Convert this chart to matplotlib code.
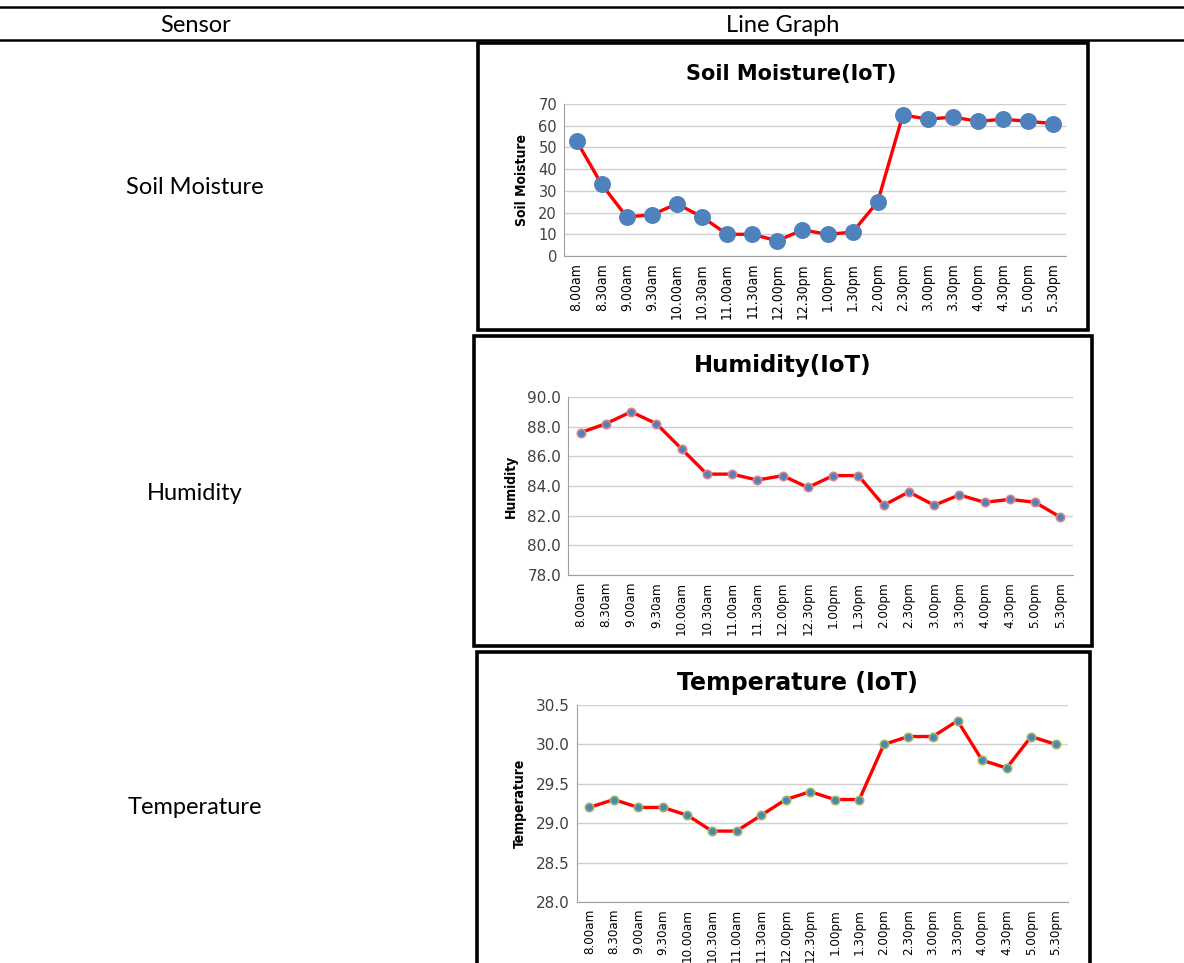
import matplotlib
matplotlib.use("Agg")
import matplotlib.pyplot as plt
from matplotlib.lines import Line2D
from matplotlib.patches import Rectangle

W, H = 1184, 963

times = ["8.00am", "8.30am", "9.00am", "9.30am", "10.00am", "10.30am", "11.00am",
         "11.30am", "12.00pm", "12.30pm", "1.00pm", "1.30pm", "2.00pm", "2.30pm",
         "3.00pm", "3.30pm", "4.00pm", "4.30pm", "5.00pm", "5.30pm"]
soil = [53, 33, 18, 19, 24, 18, 10, 10, 7, 12, 10, 11, 25, 65, 63, 64, 62, 63, 62, 61]
humidity = [87.6, 88.2, 89.0, 88.2, 86.5, 84.8, 84.8, 84.4, 84.7, 83.9, 84.7, 84.7,
            82.7, 83.6, 82.7, 83.4, 82.9, 83.1, 82.9, 81.9]
temperature = [29.2, 29.3, 29.2, 29.2, 29.1, 28.9, 28.9, 29.1, 29.3, 29.4, 29.3, 29.3,
               30.0, 30.1, 30.1, 30.3, 29.8, 29.7, 30.1, 30.0]
sensors = ["Soil Moisture", "Humidity", "Temperature"]

NARROW = ["DejaVu Sans Condensed", "Liberation Sans Narrow", "DejaVu Sans"]
BODY = ["Lato", "DejaVu Sans"]

def frac(x0, y0, x1, y1):
    # pixel box (top-left origin) -> figure fraction rect
    return [x0 / W, 1 - y1 / H, (x1 - x0) / W, (y1 - y0) / H]

fig = plt.figure(figsize=(W / 100, H / 100), dpi=100)

# table header lines
for yp in (7, 40):
    fig.add_artist(Line2D([0, 1], [1 - yp / H] * 2, color="black", lw=1.8,
                          transform=fig.transFigure))
fig.text(196 / W, 1 - 25 / H, "Sensor", ha="center", va="center",
         fontsize=17, family=BODY)
fig.text(783 / W, 1 - 25 / H, "Line Graph", ha="center", va="center",
         fontsize=17, family=BODY)

label_y = [188, 493, 808]
for name, yp in zip(sensors, label_y):
    fig.text(195 / W, 1 - yp / H, name, ha="center", va="center",
             fontsize=17, family=BODY)

charts = [
    dict(title="Soil Moisture(IoT)", ylabel="Soil Moisture", data=soil,
         box=(478, 43, 1088, 330), plot=(564, 104, 1066, 256), title_xy=(791, 74), tsize=15,
         ylim=(0, 70), yticks=range(0, 71, 10), fmt="{:.0f}", ysize=10.5, xsize=10,
         ms=11, mfc="#4f81bd", mec="#4f81bd"),
    dict(title="Humidity(IoT)", ylabel="Humidity", data=humidity,
         box=(474, 336, 1092, 646), plot=(568, 397, 1073, 575), title_xy=(783, 365), tsize=16.5,
         ylim=(78, 90), yticks=[78, 80, 82, 84, 86, 88, 90], fmt="{:.1f}", ysize=11, xsize=9.5,
         ms=6, mfc="#4f81bd", mec="#d9848a"),
    dict(title="Temperature (IoT)", ylabel="Temperature", data=temperature,
         box=(477, 652, 1090, 966), plot=(577, 705, 1068, 902), title_xy=(797, 683), tsize=17,
         ylim=(28.0, 30.5), yticks=[28.0, 28.5, 29.0, 29.5, 30.0, 30.5], fmt="{:.1f}",
         ysize=11, xsize=9.5, ms=6, mfc="#4f81bd", mec="#9bbb59"),
]

for c in charts:
    bx0, by0, bx1, by1 = c["box"]
    fig.add_artist(Rectangle((bx0 / W, 1 - by1 / H), (bx1 - bx0) / W, (by1 - by0) / H,
                             transform=fig.transFigure, fill=False,
                             edgecolor="black", lw=2.6))
    tx, ty = c["title_xy"]
    fig.text(tx / W, 1 - ty / H, c["title"], ha="center",
             va="center", fontsize=c["tsize"], fontweight="bold", family="DejaVu Sans")

    ax = fig.add_axes(frac(*c["plot"]))
    x = range(len(times))
    ax.plot(x, c["data"], color="red", lw=2.4, marker="o", ms=c["ms"],
            mfc=c["mfc"], mec=c["mec"], mew=1.2, zorder=3)
    ax.set_xlim(-0.5, len(times) - 0.5)
    ax.set_ylim(*c["ylim"])
    ax.set_yticks(list(c["yticks"]))
    ax.set_yticklabels([c["fmt"].format(v) for v in c["yticks"]], fontsize=c["ysize"],
                       color="#404040", family="DejaVu Sans")
    ax.set_xticks(list(x))
    ax.set_xticklabels(times, rotation=90, fontsize=c["xsize"], family=NARROW,
                       fontstretch="condensed", color="black")
    ax.tick_params(length=0, pad=5)
    ax.grid(axis="y", color="#d0d0d0", lw=1)
    ax.set_axisbelow(True)
    for s in ("top", "right"):
        ax.spines[s].set_visible(False)
    for s in ("left", "bottom"):
        ax.spines[s].set_color("#a0a0a0")
    ax.set_ylabel(c["ylabel"], fontsize=10, fontweight="bold", family=NARROW,
                  fontstretch="condensed", labelpad=7)

fig.savefig("out.png", dpi=100)
